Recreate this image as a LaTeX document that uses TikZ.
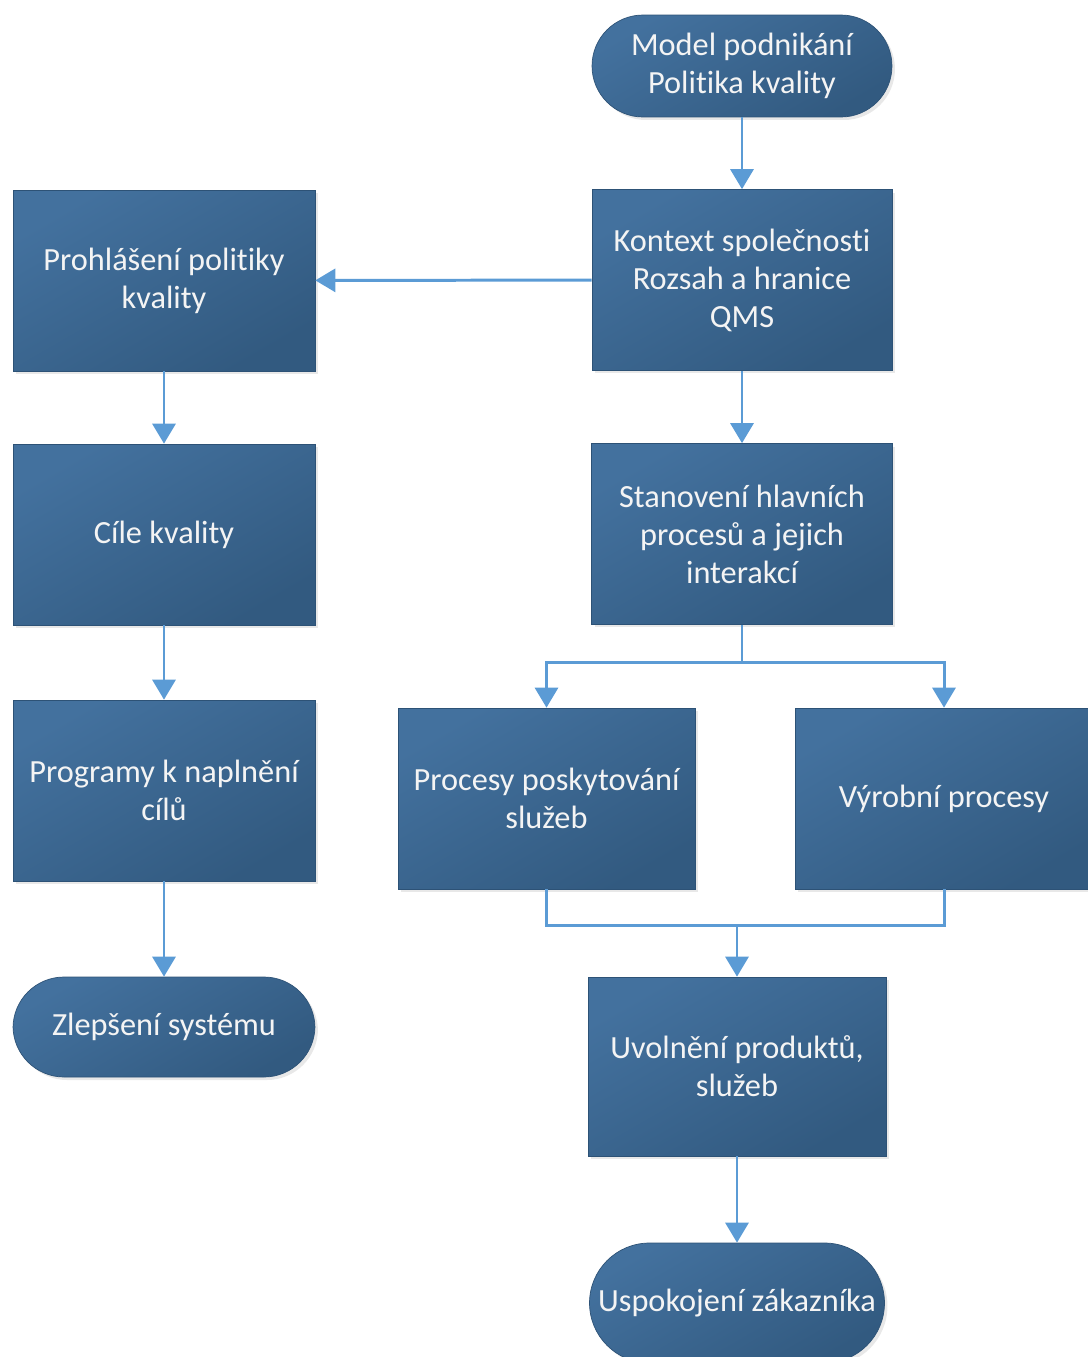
\documentclass[tikz,border=0pt]{standalone}
\usepackage{fontspec}
\setmainfont{Carlito}[Ligatures=NoCommon]
\usetikzlibrary{arrows.meta,positioning,shadows}

\definecolor{boxlight}{HTML}{43719E}
\definecolor{boxdark}{HTML}{325A80}
\definecolor{boxedge}{HTML}{2D5276}
\definecolor{linkblue}{HTML}{5B9BD5}
\definecolor{boxtext}{HTML}{F4F4F4}

\tikzset{
    block/.style={rectangle, draw=boxedge, line width=0.4pt,
        top color=boxlight, bottom color=boxdark, shading angle=30,
        text=boxtext, align=flush center, text width=5.8cm,
        font=\fontsize{18.4}{21.6}\selectfont,
        minimum width=6.04cm, minimum height=3.62cm, inner sep=0pt,
        drop shadow={opacity=0.18, shadow xshift=0.06cm, shadow yshift=-0.06cm}},
    terminal/.style={block, rounded corners=1.02cm, minimum height=2.04cm},
    link/.style={draw=linkblue, line width=1.7pt,
        -{Triangle[width=0.46cm,length=0.4cm]}},
    plain/.style={draw=linkblue, line width=1.7pt}
}

\begin{document}
\begin{tikzpicture}[x=0.02cm, y=-0.02cm]
    \useasboundingbox (0,0) rectangle (1088,1357);

    % right column
    \node[terminal, minimum width=6cm] (model) at (742,66) {Model podnikání\\Politika kvality};
    \node[block, minimum width=6cm] (kontext) at (742,280) {Kontext společnosti\\Rozsah a hranice\\QMS};
    \node[block, minimum width=6.02cm] (stanov) at (742,534) {Stanovení hlavních\\procesů a jejich\\interakcí};
    \node[block, minimum width=5.94cm] (sluzby) at (546.5,798.5) {Procesy poskytování\\služeb};
    \node[block, minimum width=5.96cm] (vyroba) at (944,798.5) {Výrobní procesy};
    \node[block, minimum width=5.96cm, minimum height=3.58cm] (uvol) at (737,1066.5) {Uvolnění produktů,\\služeb};
    \node[terminal, minimum width=5.9cm, minimum height=2.4cm, rounded corners=1.2cm] (spokoj) at (737,1303) {Uspokojení zákazníka};

    % left column
    \node[block] (prohl) at (164,280.5) {Prohlášení politiky\\kvality};
    \node[block] (cile) at (164,534.5) {Cíle kvality};
    \node[block] (progr) at (164,790.5) {Programy k naplnění\\cílů};
    \node[terminal, minimum height=2cm] (zleps) at (164,1027) {Zlepšení systému};

    \coordinate (split) at (742,662);
    \coordinate (join) at (737,925);

    \draw[link] (model) -- (kontext);
    \draw[link] (kontext) -- (prohl);
    \draw[link] (kontext) -- (stanov);
    \draw[plain] (stanov.south) -- (split);
    \draw[link] (split) -| (sluzby);
    \draw[link] (split) -| (vyroba);
    \draw[plain] (sluzby) |- (join) -| (vyroba);
    \draw[link] (join) -- (uvol);
    \draw[link] (uvol) -- (spokoj);

    \draw[link] (prohl) -- (cile);
    \draw[link] (cile) -- (progr);
    \draw[link] (progr) -- (zleps);
\end{tikzpicture}
\end{document}
